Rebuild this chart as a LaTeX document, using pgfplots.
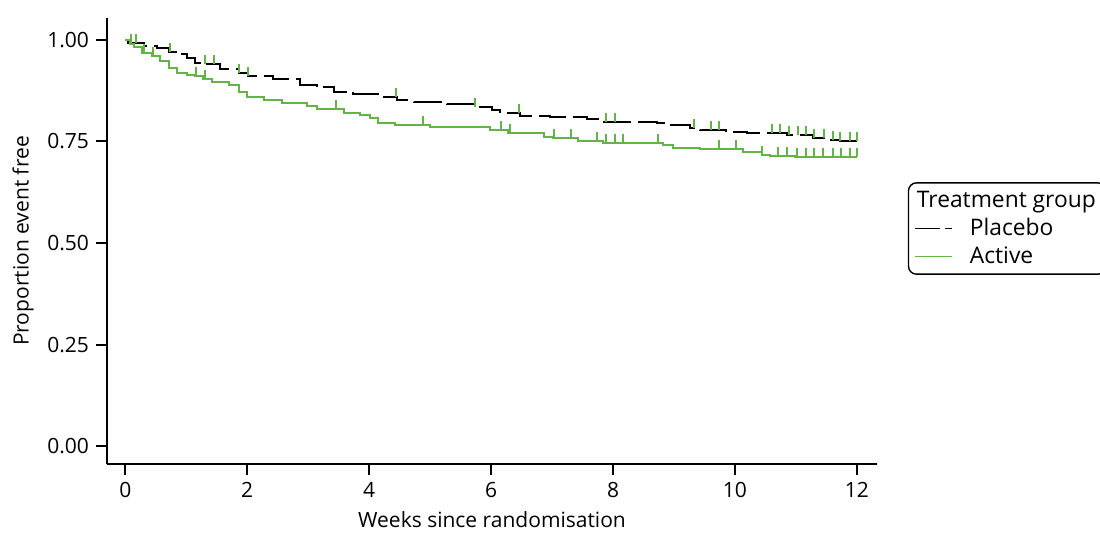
\documentclass[border=0pt]{standalone}
\usepackage{pgfplots}
\pgfplotsset{compat=1.18}
\usepackage{fontspec}
\setmainfont{Open Sans}
\usetikzlibrary{calc}
\definecolor{kmgreen}{RGB}{98,180,70}
\pgfdeclareplotmark{cens}{\pgfpathmoveto{\pgfpointorigin}\pgfpathlineto{\pgfpoint{0pt}{4.5pt}}\pgfusepathqstroke}

\pgfplotstableread{
x y
0 1.000
0.05 0.992
0.30 0.985
0.52 0.980
0.71 0.971
0.87 0.965
1.01 0.956
1.15 0.944
1.28 0.940
1.56 0.928
1.86 0.919
2.02 0.910
2.43 0.903
2.87 0.889
3.14 0.883
3.42 0.873
3.74 0.867
4.23 0.860
4.45 0.852
4.73 0.848
5.27 0.842
5.71 0.836
6.01 0.828
6.15 0.819
6.48 0.813
6.97 0.810
7.57 0.805
7.79 0.798
8.72 0.795
8.88 0.790
9.26 0.782
9.43 0.778
9.86 0.773
10.19 0.770
10.85 0.765
11.28 0.759
11.56 0.754
11.72 0.751
12.00 0.751
}\placebotab

\pgfplotstableread{
x y
0 1.000
0.08 0.990
0.14 0.983
0.27 0.967
0.44 0.961
0.57 0.947
0.71 0.932
0.85 0.918
1.01 0.914
1.15 0.910
1.28 0.904
1.42 0.897
1.70 0.890
1.86 0.873
1.99 0.859
2.27 0.852
2.57 0.844
2.98 0.838
3.14 0.831
3.58 0.819
3.85 0.814
4.02 0.807
4.15 0.796
4.43 0.791
5.00 0.785
5.98 0.778
6.28 0.770
6.86 0.762
7.02 0.758
7.43 0.752
7.84 0.746
8.82 0.741
8.99 0.733
9.43 0.731
10.14 0.725
10.44 0.717
10.57 0.715
10.98 0.713
12.00 0.713
}\activetab

\pgfplotstableread{
x y
0.10 0.992
0.17 0.992
0.74 0.971
1.30 0.940
1.45 0.940
1.87 0.919
2.02 0.910
4.44 0.860
5.74 0.836
6.46 0.819
7.89 0.798
8.03 0.798
9.32 0.782
9.61 0.778
9.74 0.778
10.60 0.770
10.74 0.770
10.89 0.765
11.03 0.765
11.16 0.765
11.30 0.759
11.46 0.759
11.60 0.754
11.72 0.751
11.89 0.751
12.00 0.751
}\placebocens

\pgfplotstableread{
x y
0.30 0.967
0.45 0.961
1.16 0.910
1.30 0.904
3.46 0.831
4.88 0.791
6.16 0.778
6.31 0.770
7.03 0.758
7.31 0.758
7.73 0.752
7.88 0.746
8.03 0.746
8.17 0.746
8.74 0.746
9.74 0.731
10.02 0.731
10.45 0.717
10.71 0.715
10.86 0.715
11.01 0.713
11.16 0.713
11.30 0.713
11.45 0.713
11.60 0.713
11.74 0.713
11.89 0.713
12.00 0.713
}\activecens

\begin{document}
\begin{tikzpicture}
\begin{axis}[
  scale only axis, width=385pt, height=223pt,
  xmin=-0.3, xmax=12.33, ymin=-0.044, ymax=1.054,
  axis lines=left, axis line style={-, line width=1pt},
  xtick={0,2,...,12}, ytick={0,0.25,0.5,0.75,1},
  yticklabel style={/pgf/number format/.cd, fixed, fixed zerofill, precision=2},
  /pgf/number format/assume math mode=true,
  tick style={line width=1pt, black}, tick align=outside, major tick length=5.5pt,
  font=\fontsize{10.5}{12.6}\selectfont,
  xlabel={Weeks since randomisation}, ylabel={Proportion event free},
  legend style={at={(axis description cs:1.040,0.528)}, anchor=west, draw=black,
    rounded corners=4pt, line width=0.7pt, font=\fontsize{11.4}{13.5}\selectfont,
    cells={anchor=west}, row sep=0pt, column sep=6.5pt, inner xsep=3pt, inner ysep=2pt},
  legend image code/.code={\draw[sharp corners, line width=0.7pt, #1] (0pt,0pt) -- (18.5pt,0pt);},
]
\addlegendimage{empty legend}
\addlegendentry{\hspace*{-26.5pt}Treatment group}
\addlegendimage{black, dash pattern=on 12.5pt off 2.5pt}
\addlegendentry{Placebo}
\addlegendimage{kmgreen}
\addlegendentry{Active}
\addplot[black, line width=1pt, const plot, dash pattern=on 14pt off 3.5pt, forget plot] table {\placebotab};
\addplot[kmgreen, line width=1pt, const plot, forget plot] table {\activetab};
\addplot[kmgreen, only marks, mark=cens, mark options={line width=1pt, solid}, forget plot] table {\placebocens};
\addplot[kmgreen, only marks, mark=cens, mark options={line width=1pt, solid}, forget plot] table {\activecens};
\end{axis}
\pgfresetboundingbox
\path[use as bounding box] ($(current axis.south west)+(-53.5pt,-35.5pt)$) rectangle ($(current axis.north east)+(111.5pt,9pt)$);
\end{tikzpicture}
\end{document}
